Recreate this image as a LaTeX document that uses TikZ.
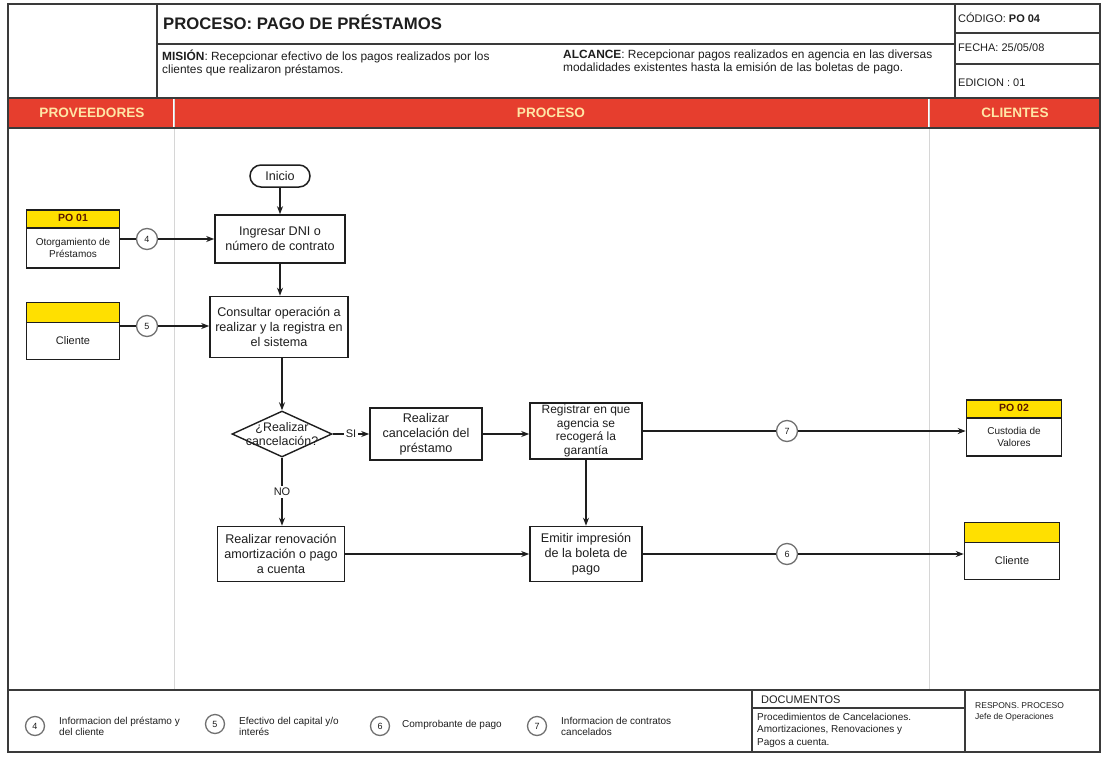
\documentclass[tikz,border=0pt]{standalone}
\usepackage{fontspec}
\setmainfont{Liberation Sans}
\usetikzlibrary{shapes.geometric,arrows.meta,calc}

\definecolor{bandred}{HTML}{E63E2E}
\definecolor{bandtxt}{HTML}{FFE6A6}
\definecolor{headyel}{HTML}{FFE000}
\definecolor{framec}{HTML}{3A3A3A}
\definecolor{lanec}{HTML}{D6D6D6}
\definecolor{ink}{HTML}{1E1E1E}
\definecolor{poink}{HTML}{5A1800}
\definecolor{tagc}{HTML}{707070}

\tikzset{
  frameline/.style={draw=framec, line width=1.8pt},
  laneline/.style={draw=lanec, line width=1pt},
  task/.style={draw=ink, line width=1.6pt, fill=white, align=center, inner sep=1pt,
    font=\fontsize{12.6}{15}\selectfont},
  arr/.style={draw=ink, line width=1.5pt, -{Stealth[length=8pt,width=6pt]}},
  link/.style={draw=ink, line width=1.5pt},
  tag/.style={circle, draw=tagc, line width=1.3pt, fill=white, minimum size=21pt,
    inner sep=0pt, font=\fontsize{9}{10}\selectfont},
  extbox/.style 2 args={draw=ink, line width=1.5pt, fill=white, minimum width=#1,
    minimum height=57pt, inner sep=0pt,
    path picture={
      \fill[headyel] (path picture bounding box.north west) rectangle
        ([yshift=-#2]path picture bounding box.north east);
      \draw[ink, line width=1.5pt] ([yshift=-#2]path picture bounding box.north west) --
        ([yshift=-#2]path picture bounding box.north east);}},
  headtxt/.style={font=\bfseries\fontsize{10.5}{12}\selectfont, text=poink, inner sep=0pt},
  bodytxt/.style={font=\fontsize{10}{12}\selectfont, align=center, inner sep=0pt},
  bandlbl/.style={font=\bfseries\fontsize{13.6}{15}\selectfont, text=bandtxt},
  hdrtxt/.style={font=\fontsize{11.9}{13}\selectfont, align=left, inner sep=0pt, anchor=north west},
  celltxt/.style={font=\fontsize{11}{12}\selectfont, anchor=west, inner sep=0pt},
  legtxt/.style={font=\fontsize{10}{11}\selectfont, align=left, inner sep=0pt, anchor=west},
}

\begin{document}
\begin{tikzpicture}[x=1pt, y=-1pt, text=ink]
\useasboundingbox (0,0) rectangle (1101,758);

% lane separators
\draw[laneline] (174,98) -- (174,690);
\draw[laneline] (929,98) -- (929,690);

% red band with lane titles
\fill[bandred] (8,98) rectangle (173,128);
\fill[bandred] (175,98) rectangle (928,128);
\fill[bandred] (930,98) rectangle (1100,128);
\node[bandlbl] (lprov) at (92,113) {PROVEEDORES};
\node[bandlbl] (lproc) at (551,113) {PROCESO};
\node[bandlbl] (lcli)  at (1015,113) {CLIENTES};

% frame and header rules
\draw[frameline] (8,4) rectangle (1100,752);
\draw[frameline] (157,4) -- (157,98);
\draw[frameline] (955,4) -- (955,98);
\draw[frameline] (157,44) -- (955,44);
\draw[frameline] (955,33) -- (1100,33);
\draw[frameline] (955,64) -- (1100,64);
\draw[frameline] (8,98) -- (1100,98);
\draw[frameline] (8,128) -- (1100,128);
\draw[frameline] (8,690) -- (1100,690);
\draw[frameline] (752,690) -- (752,752);
\draw[frameline] (965,690) -- (965,752);
\draw[frameline] (752,708) -- (965,708);

% header texts
\node[anchor=west, font=\bfseries\fontsize{16.7}{19}\selectfont, inner sep=0pt] (titulo) at (163,22)
  {PROCESO: PAGO DE PRÉSTAMOS};
\node[hdrtxt] (mision) at (162,50)
  {\textbf{MISIÓN}: Recepcionar efectivo de los pagos realizados por los\\clientes que realizaron préstamos.};
\node[hdrtxt] (alcance) at (563,50)
  {\textbf{ALCANCE}: Recepcionar pagos realizados en agencia en las diversas\\modalidades existentes hasta la emisión de las boletas de pago.};
\node[celltxt] (codigo) at (958,18) {CÓDIGO: \textbf{PO 04}};
\node[celltxt] (fecha) at (958,48) {FECHA: 25/05/08};
\node[celltxt] (edicion) at (958,83) {EDICION : 01};

% process steps
\node[draw=ink, line width=1.5pt, rounded corners=11pt, minimum width=60pt, minimum height=22pt,
  font=\fontsize{12.6}{14}\selectfont, inner sep=0pt] (inicio) at (280,176) {Inicio};
\node[task, minimum width=130pt, minimum height=48pt] (ingresar) at (280,239)
  {Ingresar DNI o\\número de contrato};
\node[task, minimum width=138pt, minimum height=61pt] (consultar) at (279,327)
  {Consultar operación a\\realizar y la registra en\\el sistema};
\node[diamond, draw=ink, line width=1.4pt, fill=white, minimum width=100pt, minimum height=46pt,
  inner sep=0pt] (dec) at (282,434) {};
\node[align=center, font=\fontsize{12.4}{14}\selectfont, inner sep=0pt] (dectxt) at (282,434)
  {¿Realizar\\cancelación?};
\node[task, minimum width=112pt, minimum height=52pt] (cancel) at (426,434)
  {Realizar\\cancelación del\\préstamo};
\node[task, minimum width=112pt, minimum height=56pt, font=\fontsize{12}{13.5}\selectfont] (registrar) at (586,431)
  {Registrar en que\\agencia se\\recogerá la\\garantía};
\node[task, minimum width=127pt, minimum height=55pt] (renov) at (281,554)
  {Realizar renovación\\amortización o pago\\a cuenta};
\node[task, minimum width=112pt, minimum height=55pt] (emitir) at (586,554)
  {Emitir impresión\\de la boleta de\\pago};

% suppliers
\node[extbox={93pt}{18pt}, minimum height=58pt] (po01) at (73,239) {};
\node[headtxt] (po01h) at ([yshift=-9pt]po01.north) {PO 01};
\node[bodytxt] (po01b) at ([yshift=-9pt]po01.center) {Otorgamiento de\\Préstamos};
\node[extbox={93pt}{20pt}] (cli1) at (73,331) {};
\node[bodytxt, font=\fontsize{11}{12}\selectfont] (cli1b) at ([yshift=-10pt]cli1.center) {Cliente};

% customers
\node[extbox={95pt}{18pt}, minimum height=56pt] (po02) at (1014,428) {};
\node[headtxt] (po02h) at ([yshift=-9pt]po02.north) {PO 02};
\node[bodytxt] (po02b) at ([yshift=-9pt]po02.center) {Custodia de\\Valores};
\node[extbox={95pt}{20pt}] (cli2) at (1012,551) {};
\node[bodytxt, font=\fontsize{11}{12}\selectfont] (cli2b) at ([yshift=-10pt]cli2.center) {Cliente};

% flow tags
\node[tag] (c4) at (147,239) {4};
\node[tag] (c5) at (147,326) {5};
\node[tag] (c7) at (787,431) {7};
\node[tag] (c6) at (787,554) {6};

% connectors
\draw[arr] (inicio) -- (ingresar);
\draw[arr] (ingresar) -- (ingresar.south |- consultar.north);
\draw[arr] (consultar.south -| dec.north) -- (dec.north);
\draw[arr] (dec.east) -- node[fill=white, inner sep=1.5pt, font=\fontsize{11}{12}\selectfont] (si) {SI} (dec.east -| cancel.west);
\draw[arr] (dec.south) -- node[fill=white, inner sep=2pt, font=\fontsize{11}{12}\selectfont] (no) {NO} (dec.south |- renov.north);
\draw[arr] (cancel.east) -- (cancel.east -| registrar.west);
\draw[arr] (registrar.south) -- (registrar.south |- emitir.north);
\draw[arr] (renov.east) -- (renov.east -| emitir.west);
\draw[link] (registrar.east |- c7) -- (c7);
\draw[arr] (c7) -- (c7 -| po02.west);
\draw[link] (emitir.east |- c6) -- (c6);
\draw[arr] (c6) -- (c6 -| cli2.west);
\draw[link] (po01.east |- c4) -- (c4);
\draw[arr] (c4) -- (c4 -| ingresar.west);
\draw[link] (c5 -| cli1.east) -- (c5);
\draw[arr] (c5) -- (c5 -| consultar.west);

% legend
\node[tag, minimum size=19pt] (lg4) at (35,726) {4};
\node[legtxt] (lt4) at (59,726) {Informacion del préstamo y\\del cliente};
\node[tag, minimum size=19pt] (lg5) at (215,724) {5};
\node[legtxt] (lt5) at (239,726) {Efectivo del capital y/o\\interés};
\node[tag, minimum size=19pt] (lg6) at (380,726) {6};
\node[legtxt] (lt6) at (402,725) {Comprobante de pago};
\node[tag, minimum size=19pt] (lg7) at (537,726) {7};
\node[legtxt] (lt7) at (561,726) {Informacion de contratos\\cancelados};

% documents and owner
\node[anchor=west, font=\fontsize{11}{12}\selectfont, inner sep=0pt] (docs) at (761,700) {DOCUMENTOS};
\node[anchor=north west, font=\fontsize{10}{12.5}\selectfont, align=left, inner sep=0pt] (docsb) at (757,713)
  {Procedimientos de Cancelaciones.\\Amortizaciones, Renovaciones y\\Pagos a cuenta.};
\node[anchor=north west, font=\fontsize{8.5}{11}\selectfont, align=left, inner sep=0pt] (resp) at (975,702)
  {RESPONS. PROCESO\\Jefe de Operaciones};
\end{tikzpicture}
\end{document}
